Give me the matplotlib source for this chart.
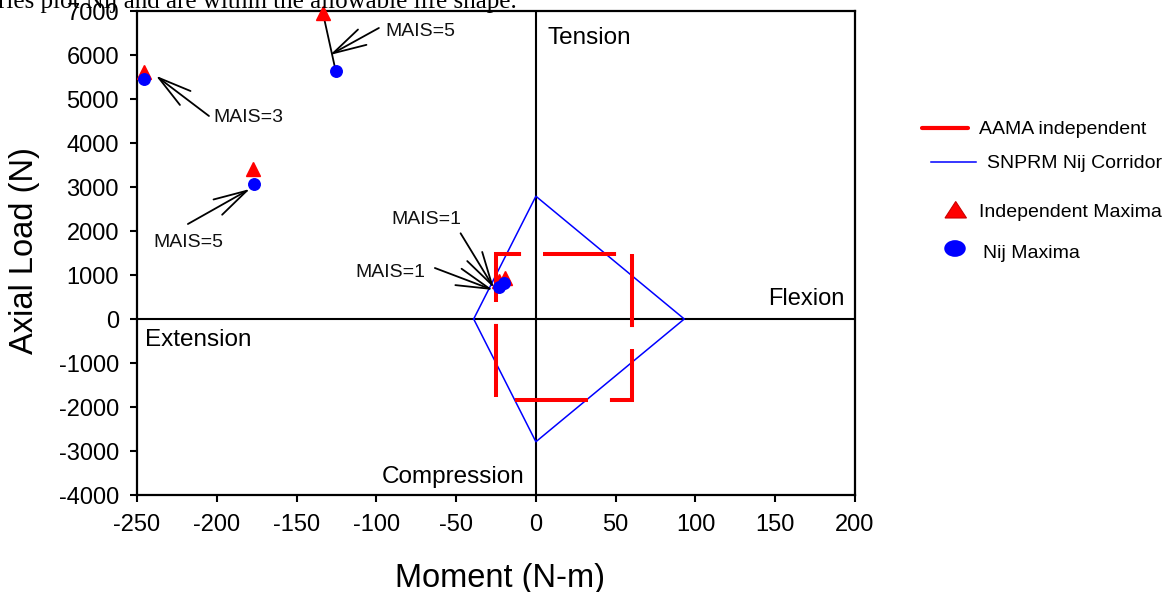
import matplotlib
matplotlib.use("Agg")
import matplotlib.pyplot as plt
from matplotlib.lines import Line2D
from matplotlib.patches import Ellipse, Polygon

plt.rcParams["font.family"] = ["Liberation Sans", "DejaVu Sans"]
plt.rcParams["lines.scale_dashes"] = False
plt.rcParams["axes.unicode_minus"] = False

# AAMA independent limits (moment N-m, axial load N)
aama_moment = [60, 60, -25, -25, 60]
aama_load = [1480, -1830, -1830, 1480, 1480]

# SNPRM Nij corridor
nij_moment = [-39, 0, 93, 0, -39]
nij_load = [0, 2790, 0, -2790, 0]

# Independent maxima and Nij maxima per test
indep_moment = [-245.7, -133.5, -177.2, -19.4, -23.2]
indep_load = [5610, 6960, 3410, 940, 860]
nijmax_moment = [-245.7, -125.5, -176.9, -20.0, -23.4]
nijmax_load = [5455, 5643, 3061, 818, 727]

# Injury-level labels: text, text anchor, arrow tail, arrow tip
mais_labels = ["MAIS=3", "MAIS=5", "MAIS=5", "MAIS=1", "MAIS=1"]
label_pos = [(-202.2, 4470), (-94.6, 6432), (-239.8, 1643), (-90.5, 2159), (-113.4, 961)]
arrow_tail = [(-204.9, 4614), (-98.4, 6614), (-218.1, 2159), (-47.2, 1948), (-63.3, 1159)]
arrow_tip = [(-238.2, 5530), (-129.1, 6000), (-179.2, 2955), (-26.3, 704), (-26.9, 659)]

xticks = [-250, -200, -150, -100, -50, 0, 50, 100, 150, 200]
yticks = [-4000, -3000, -2000, -1000, 0, 1000, 2000, 3000, 4000, 5000, 6000, 7000]

W, H = 1172, 592
fig = plt.figure(figsize=(W / 100, H / 100), dpi=100)
ax = fig.add_axes([137 / W, 1 - 495 / H, 718 / W, 484 / H])

ax.set_xlim(-250, 200)
ax.set_ylim(-4000, 7000)
ax.set_xticks(xticks)
ax.set_yticks(yticks)
ax.tick_params(direction="out", length=5, width=1.5, labelsize=17)
ax.tick_params(axis="x", pad=8.5)
ax.tick_params(axis="y", pad=8)
for sp in ax.spines.values():
    sp.set_linewidth(1.6)

# quadrant axes
ax.axhline(0, color="black", lw=1.5, zorder=2)
ax.axvline(0, color="black", lw=1.5, zorder=2)

ax.plot(nij_moment, nij_load, color="#0000ff", lw=1.1, zorder=3)
ax.plot(aama_moment, aama_load, color="#ff0000", lw=2.9,
        dashes=(52.6, 15.8), dash_joinstyle="miter", zorder=3)

# link between the paired maxima of the top test
ax.plot([indep_moment[1], nijmax_moment[1]], [indep_load[1], nijmax_load[1]],
        color="black", lw=1.3, zorder=4)

ax.plot(indep_moment, indep_load, linestyle="none", marker="^", ms=9.5,
        color="#ff0000", mec="#ff0000", zorder=6, clip_on=False)
ax.plot(nijmax_moment, nijmax_load, linestyle="none", marker="o", ms=8.3,
        color="#0000ff", mec="#0000ff", zorder=7, clip_on=False)

for txt, pos, tail, tip in zip(mais_labels, label_pos, arrow_tail, arrow_tip):
    ax.annotate("", xy=tip, xytext=tail,
                arrowprops=dict(arrowstyle="->,head_length=24,head_width=6.3",
                                lw=1.3, color="black", shrinkA=0, shrinkB=0,
                                mutation_scale=1),
                zorder=5)
    ax.text(pos[0], pos[1], txt, fontsize=14, ha="left", va="baseline", color="#111111")

ax.text(7.5, 6250, "Tension", fontsize=17.5, ha="left", va="baseline")
ax.text(193.7, 318, "Flexion", fontsize=17, ha="right", va="baseline")
ax.text(-245, -614, "Extension", fontsize=17.5, ha="left", va="baseline")
ax.text(-96.3, -3734, "Compression", fontsize=17.5, ha="left", va="baseline")

fig.text(500 / W, 1 - 587 / H, "Moment (N-m)", fontsize=23.5, ha="center", va="baseline")
fig.text(33 / W, 1 - 251 / H, "Axial Load (N)", fontsize=23.5, rotation=90,
         rotation_mode="anchor", ha="center", va="baseline")

# running text from the page above the chart
fig.text(-2 / W, 1 - 8 / H, "ries plot Nij and are within the allowable life shape.",
         fontsize=18, family="Liberation Serif", ha="left", va="baseline", zorder=0)

# legend
tf = fig.transFigure
fig.add_artist(Line2D([922 / W, 968 / W], [1 - 128 / H, 1 - 128 / H], color="#ff0000",
                      lw=3, solid_capstyle="round", transform=tf))
fig.add_artist(Line2D([931 / W, 976 / W], [1 - 162 / H, 1 - 162 / H], color="#0000ff",
                      lw=1.1, transform=tf))
fig.add_artist(Polygon([(945 / W, 1 - 218 / H), (966.5 / W, 1 - 218 / H), (955.7 / W, 1 - 201.5 / H)],
                       closed=True, fc="#ff0000", ec="#cc0000", lw=0.8, transform=tf))
fig.add_artist(Ellipse((955 / W, 1 - 248.5 / H), 21.5 / W, 16.7 / H, fc="#0000ff",
                       ec="none", transform=tf))
fig.text(979 / W, 1 - 134.3 / H, "AAMA independent", fontsize=14, va="baseline")
fig.text(987 / W, 1 - 168.3 / H, "SNPRM Nij Corridor", fontsize=14, va="baseline")
fig.text(979 / W, 1 - 216.7 / H, "Independent Maxima", fontsize=14, va="baseline")
fig.text(983 / W, 1 - 258.3 / H, "Nij Maxima", fontsize=14, va="baseline")

fig.savefig("out.png", dpi=100)
